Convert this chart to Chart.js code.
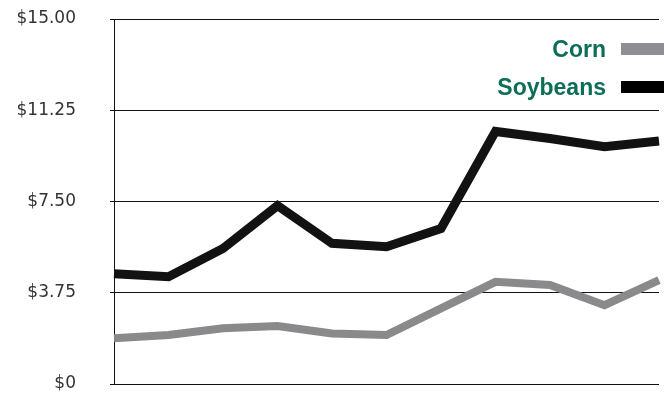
<!DOCTYPE html>
<html>
<head>
<meta charset="utf-8">
<script src="https://cdn.jsdelivr.net/npm/chart.js@4/dist/chart.umd.min.js"></script>
<style>
  html, body { margin: 0; padding: 0; background: #ffffff; }
  #wrap { position: relative; width: 664px; height: 394px; }
</style>
</head>
<body>
<div id="wrap"><canvas id="c" width="664" height="394"></canvas></div>
<script>
const categories = ['2000','2001','2002','2003','2004','2005','2006','2007','2008','2009','2010'];
const cornPrices = [1.88, 2.01, 2.29, 2.38, 2.08, 2.01, 3.11, 4.20, 4.07, 3.24, 4.27];
const soybeanPrices = [4.53, 4.41, 5.57, 7.33, 5.78, 5.64, 6.39, 10.38, 10.09, 9.75, 9.99];
const seriesNames = ['Corn', 'Soybeans'];
const yTicks = [0, 3.75, 7.5, 11.25, 15];
const yTickLabels = ['$0', '$3.75', '$7.50', '$11.25', '$15.00'];

const legendPlugin = {
  id: 'rightLegend',
  afterDatasetsDraw(chart) {
    const ctx = chart.ctx;
    ctx.save();
    chart.data.datasets.forEach((ds, i) => {
      const cy = 49 + i * 38;
      ctx.fillStyle = ds.legendColor;
      ctx.fillRect(621, cy - 6, 43, 12);
      ctx.font = 'bold 23px "Liberation Sans", Arial, sans-serif';
      ctx.fillStyle = '#0c6e58';
      ctx.textAlign = 'right';
      ctx.textBaseline = 'alphabetic';
      ctx.fillText(ds.label, 606, cy + 8);
    });
    ctx.restore();
  }
};

new Chart(document.getElementById('c'), {
  type: 'line',
  data: {
    labels: categories,
    datasets: [
      {
        label: seriesNames[0],
        data: cornPrices,
        borderColor: '#8a8a8c',
        legendColor: '#8f8f93',
        borderWidth: 8,
        pointRadius: 0,
        tension: 0,
        borderCapStyle: 'butt',
        borderJoinStyle: 'miter'
      },
      {
        label: seriesNames[1],
        data: soybeanPrices,
        borderColor: '#121212',
        legendColor: '#000000',
        borderWidth: 9,
        pointRadius: 0,
        tension: 0,
        borderCapStyle: 'butt',
        borderJoinStyle: 'miter'
      }
    ]
  },
  options: {
    responsive: false,
    animation: false,
    devicePixelRatio: 1,
    layout: { padding: { top: 19, right: 5, bottom: 10, left: 0 } },
    plugins: {
      legend: { display: false },
      tooltip: { enabled: false }
    },
    scales: {
      x: {
        display: false,
        offset: false
      },
      y: {
        min: 0,
        max: 15,
        afterBuildTicks(scale) {
          scale.ticks = yTicks.map(v => ({ value: v }));
        },
        afterFit(scale) {
          scale.width = 114;
          scale.paddingTop = 8;
          scale.paddingBottom = 8;
        },
        ticks: {
          padding: 34,
          color: '#333333',
          font: { family: '"DejaVu Sans", Verdana, sans-serif', size: 17 },
          callback(value) {
            const idx = yTicks.indexOf(value);
            return idx >= 0 ? yTickLabels[idx] : '';
          }
        },
        grid: {
          color: '#111111',
          lineWidth: 1,
          tickLength: 4,
          drawTicks: true
        },
        border: { display: true, color: '#111111', width: 1 }
      }
    }
  },
  plugins: [legendPlugin]
});
</script>
</body>
</html>
